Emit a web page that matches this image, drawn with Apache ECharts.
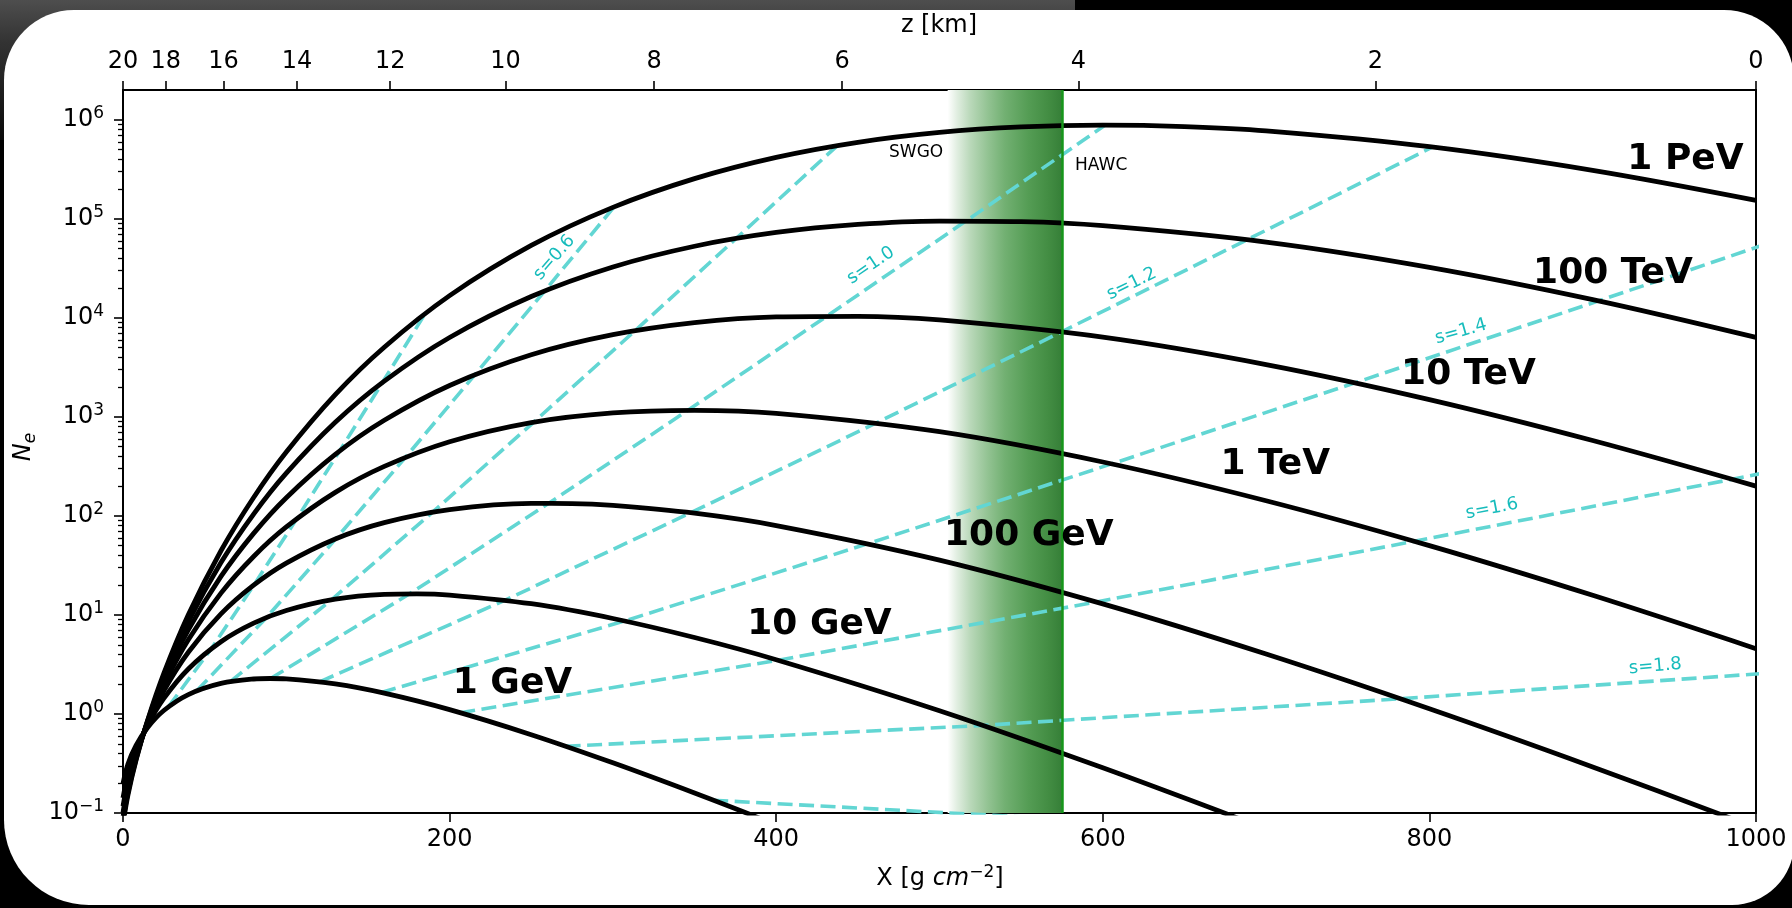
<!DOCTYPE html>
<html>
<head>
<meta charset="utf-8">
<script src="https://cdn.jsdelivr.net/npm/echarts@6/dist/echarts.min.js"></script>
<style>
html,body{margin:0;padding:0;background:#000;}
#chart{width:1792px;height:908px;}
</style>
</head>
<body>
<div id="chart"></div>
<script>
// ---------------- data ----------------
// Shower size N_e versus depth X [g cm^-2], one curve per primary energy
const energyNames = ['1 GeV', '10 GeV', '100 GeV', '1 TeV', '10 TeV', '100 TeV', '1 PeV'];

const x1GeV = [0, 3, 8, 15, 25, 40, 60, 80, 90, 100, 130, 160, 200, 250, 300, 350, 400, 500];
const n1GeV = [0.198, 0.311, 0.481, 0.727, 1.084, 1.571, 2.036, 2.255, 2.281, 2.261, 2.010, 1.621, 1.105, 0.617, 0.321, 0.159, 0.076, 0.0162];

const x10GeV = [0, 3, 8, 15, 25, 40, 60, 80, 100, 130, 160, 180, 200, 250, 300, 350, 400, 500, 600, 700];
const n10GeV = [0.142, 0.241, 0.425, 0.764, 1.434, 2.850, 5.369, 8.263, 11.09, 14.44, 16.14, 16.34, 15.89, 12.98, 9.211, 5.918, 3.534, 1.079, 0.286, 0.0691];

const x100GeV = [0, 3, 8, 15, 25, 40, 60, 80, 100, 130, 160, 200, 250, 275, 300, 350, 400, 500, 600, 700, 800, 900, 1000];
const n100GeV = [0.117, 0.208, 0.395, 0.791, 1.718, 4.204, 10.24, 19.97, 33.37, 58.56, 85.64, 115.9, 133.7, 133.3, 127.7, 106.5, 79.89, 35.80, 12.93, 4.030, 1.129, 0.292, 0.0710];

const x1TeV = [0, 3, 8, 15, 25, 40, 60, 80, 100, 130, 160, 200, 250, 300, 350, 400, 500, 600, 700, 800, 900, 1000];
const n1TeV = [0.101, 0.187, 0.376, 0.812, 1.964, 5.609, 16.61, 38.94, 77.39, 173.0, 316.2, 561.6, 877.1, 1098, 1165, 1086, 709.0, 350.5, 142.4, 50.09, 15.78, 4.564];

const x10TeV = [0, 3, 8, 15, 25, 40, 60, 80, 100, 130, 160, 200, 250, 300, 350, 400, 450, 500, 600, 700, 800, 900, 1000];
const n10TeV = [0.0908, 0.172, 0.361, 0.829, 2.184, 7.054, 24.47, 66.60, 152.8, 418.2, 924.1, 2075, 4236, 6758, 8944, 10212, 10354, 9520, 6384, 3376, 1495, 577.1, 199.8];

const x100TeV = [0, 3, 8, 15, 25, 40, 60, 80, 100, 130, 160, 200, 250, 300, 350, 400, 450, 500, 550, 600, 700, 800, 900, 1000];
const n100TeV = [0.0830, 0.160, 0.350, 0.844, 2.384, 8.532, 33.76, 104.3, 270.2, 880.9, 2295, 6332, 16410, 32640, 52860, 72790, 87820, 94950, 93590, 85260, 58290, 32390, 15290, 6347];

const x1PeV = [0, 3, 8, 15, 25, 40, 60, 80, 100, 130, 160, 200, 250, 300, 350, 400, 450, 500, 550, 600, 650, 700, 800, 900, 1000];
const n1PeV = [0.0769, 0.151, 0.341, 0.857, 2.570, 10.04, 44.50, 153.5, 441.8, 1679, 5056, 16770, 53850, 130600, 254800, 417400, 592500, 745700, 848300, 884100, 854700, 773800, 536400, 309300, 153900];

// Lines of constant shower age s (points at 1 GeV ... 1 PeV)
const ageNames = ['0.4', '0.6', '0.8', '1.0', '1.2', '1.4', '1.6', '1.8', '2.0'];
const xAge04 = [27.80, 54.01, 80.23, 106.45, 132.65, 158.87, 185.08];
const nAge04 = [1.181, 4.556, 20.11, 93.91, 452.1, 2222, 11060];
const xAge06 = [45.18, 87.76, 130.37, 172.98, 215.56, 258.17, 300.75];
const nAge06 = [1.714, 9.393, 58.90, 390.8, 2674, 18650, 132100];
const xAge08 = [65.71, 127.66, 189.63, 251.60, 313.54, 375.52, 437.46];
const nAge08 = [2.123, 14.23, 109.2, 886.5, 7414, 63380, 549300];
const xAge10 = [90.35, 175.53, 260.74, 345.95, 431.12, 516.34, 601.51];
const nAge10 = [2.281, 16.35, 134.2, 1166, 10430, 95400, 884100];
const xAge12 = [120.47, 234.04, 347.65, 461.26, 574.83, 688.44, 802.01];
const nAge12 = [2.113, 14.10, 107.6, 870.0, 7242, 61620, 531600];
const xAge14 = [158.12, 307.17, 456.29, 605.41, 754.47, 903.59, 1052.64];
const nAge14 = [1.647, 8.692, 52.49, 335.3, 2210, 14850, 101200];
const xAge16 = [206.52, 401.21, 595.97, 790.74, 985.42, 1180.19];
const nAge16 = [1.029, 3.488, 13.52, 55.46, 234.6, 1013];
const xAge18 = [271.06, 526.58, 782.22, 1037.85];
const nAge18 = [0.4720, 0.7667, 1.4246, 2.801];
const xAge20 = [361.42, 702.11];
const nAge20 = [0.1346, 0.0670];

// Detector depth band (SWGO -> HAWC), X in g cm^-2
const bandX = [505, 575];

// Axis ticks
const xTicks = [0, 200, 400, 600, 800, 1000];
const zTickX = [0, 26.2, 61.6, 106.6, 163.6, 234.3, 325.3, 440.3, 585.0, 766.9, 1000];
const zTickLabels = ['20', '18', '16', '14', '12', '10', '8', '6', '4', '2', '0'];
const yDecades = [0.1, 1, 10, 100, 1000, 1e4, 1e5, 1e6];
const yMin = 0.1, yMax = 2e6;

// Annotation anchors (data coordinates)
const energyLabelX = [238.5, 426.5, 554.7, 705.6, 823.9, 912.4, 956.8];
const energyLabelN = [2.004, 7.96, 63.24, 328.1, 2673, 28100, 399900];
const ageLabelText = ['s=0.6', 's=1.0', 's=1.2', 's=1.4', 's=1.6', 's=1.8'];
const ageLabelX = [264.1, 458.0, 617.7, 819.3, 838.3, 938.4];
const ageLabelN = [40640, 33800, 22080, 7244, 118, 3.02];
const ageLabelAngle = [49, 34, 26, 16, 11, 5];
const siteNames = ['SWGO', 'HAWC'];
const siteLabelX = [485.7, 599];
const siteLabelN = [462400, 345900];

// ---------------- chart ----------------
const FONT = 'DejaVu Sans';
const pairs = (xs, ns) => xs.map((x, i) => [x, ns[i]]);

const minorTicks = [];
for (let k = -1; k <= 6; k++) {
  for (let m = 2; m <= 9; m++) {
    const v = m * Math.pow(10, k);
    if (v < yMax) minorTicks.push(v);
  }
}

const curveXs = [x1GeV, x10GeV, x100GeV, x1TeV, x10TeV, x100TeV, x1PeV];
const curveNs = [n1GeV, n10GeV, n100GeV, n1TeV, n10TeV, n100TeV, n1PeV];
const ageXs = [xAge04, xAge06, xAge08, xAge10, xAge12, xAge14, xAge16, xAge18, xAge20];
const ageNs = [nAge04, nAge06, nAge08, nAge10, nAge12, nAge14, nAge16, nAge18, nAge20];

const series = [];

// band (gradient) + right edge line
series.push({
  type: 'line', name: 'band', z: 1, silent: true,
  xAxisIndex: 0, yAxisIndex: 0,
  data: [[bandX[0], yMin], [bandX[1], yMin]],
  showSymbol: false, symbol: 'none',
  lineStyle: { width: 0, opacity: 0 },
  markArea: {
    silent: true,
    itemStyle: {
      color: {
        type: 'linear', x: 0, y: 0, x2: 1, y2: 0,
        colorStops: [
          { offset: 0, color: '#ffffff' },
          { offset: 0.08, color: '#e1eee1' },
          { offset: 0.2, color: '#b9d8b9' },
          { offset: 0.35, color: '#93c393' },
          { offset: 0.5, color: '#72b072' },
          { offset: 0.7, color: '#559d55' },
          { offset: 0.88, color: '#438d43' },
          { offset: 1, color: '#367f38' }
        ]
      }
    },
    data: [[{ xAxis: bandX[0] }, { xAxis: bandX[1] }]]
  },
  markLine: {
    silent: true, symbol: 'none', label: { show: false },
    lineStyle: { color: '#16961a', width: 2.5, type: 'solid' },
    data: [{ xAxis: bandX[1] }]
  }
});

// age lines
ageXs.forEach((xs, i) => {
  series.push({
    type: 'line', name: 's=' + ageNames[i], z: 3, silent: true,
    data: pairs(xs, ageNs[i]),
    showSymbol: false, symbol: 'none', clip: true,
    lineStyle: { color: '#62d6d3', width: 3.6, type: [15, 6.5] }
  });
});

// energy curves
curveXs.forEach((xs, i) => {
  series.push({
    type: 'line', name: energyNames[i], z: 4, silent: true,
    data: pairs(xs, curveNs[i]),
    showSymbol: false, symbol: 'none', smooth: 0.35, clip: true,
    lineStyle: { color: '#000', width: 4.8 }
  });
});

const labelHolder = {
  type: 'scatter', z: 6, silent: true, symbolSize: 0.001,
  itemStyle: { color: 'transparent', opacity: 1 },
  emphasis: { disabled: true }
};

// energy labels
series.push(Object.assign({}, labelHolder, {
  data: energyLabelX.map((x, i) => ({ value: [x, energyLabelN[i]], name: energyNames[i] })),
  label: { show: true, position: 'inside', formatter: '{b}', fontSize: 36, fontWeight: 'bold', fontFamily: FONT, color: '#000', opacity: 1, textBorderWidth: 0 }
}));

// age labels
series.push(Object.assign({}, labelHolder, {
  data: ageLabelX.map((x, i) => ({ value: [x, ageLabelN[i]], name: ageLabelText[i], label: { rotate: ageLabelAngle[i] } })),
  label: { show: true, position: 'inside', formatter: '{b}', fontSize: 18, fontFamily: FONT, color: '#17bcbc', opacity: 1, textBorderWidth: 0 }
}));

// site labels
series.push(Object.assign({}, labelHolder, {
  data: siteLabelX.map((x, i) => ({ value: [x, siteLabelN[i]], name: siteNames[i] })),
  label: { show: true, position: 'inside', formatter: '{b}', fontSize: 17, fontFamily: FONT, color: '#000', opacity: 1, textBorderWidth: 0 }
}));

function expLabel(v) {
  const e = Math.round(Math.log10(v));
  return '{b|10}{e|' + (e < 0 ? '\u2212' + (-e) : String(e)) + '}';
}
function zLabel(v) {
  let best = 0, bd = Infinity;
  zTickX.forEach((x, i) => { const d = Math.abs(x - v); if (d < bd) { bd = d; best = i; } });
  return zTickLabels[best];
}

const option = {
  animation: false,
  backgroundColor: '#000',
  textStyle: { fontFamily: FONT },
  grid: {
    left: 123, right: 36, top: 90, bottom: 95,
    show: true, borderColor: '#000', borderWidth: 2, backgroundColor: 'transparent',
    containLabel: false, outerBoundsMode: 'none'
  },
  xAxis: [
    {
      type: 'value', position: 'bottom', min: 0, max: 1000, interval: 200,
      axisLine: { show: true, onZero: false, lineStyle: { color: '#000', width: 2 } },
      axisTick: { show: true, inside: false, length: 9, customValues: xTicks, lineStyle: { color: '#000', width: 1.6 } },
      axisLabel: { show: true, customValues: xTicks, formatter: (v) => String(Math.round(v)), fontSize: 24, fontFamily: FONT, color: '#000', margin: 15 },
      splitLine: { show: false }
    },
    {
      type: 'value', position: 'top', min: 0, max: 1000,
      axisLine: { show: true, onZero: false, lineStyle: { color: '#000', width: 2 } },
      axisTick: { show: true, inside: false, length: 9, customValues: zTickX, lineStyle: { color: '#000', width: 1.6 } },
      axisLabel: { show: true, customValues: zTickX, formatter: zLabel, fontSize: 24, fontFamily: FONT, color: '#000', margin: 16 },
      splitLine: { show: false }
    }
  ],
  yAxis: [
    {
      type: 'log', logBase: 10, min: yMin, max: yMax, position: 'left',
      axisLine: { show: true, onZero: false, lineStyle: { color: '#000', width: 2 } },
      axisTick: { show: true, inside: false, length: 9, customValues: yDecades, lineStyle: { color: '#000', width: 1.6 } },
      axisLabel: {
        show: true, customValues: yDecades, formatter: expLabel, margin: 19,
        rich: {
          b: { fontSize: 24, fontFamily: FONT, color: '#000', lineHeight: 30 },
          e: { fontSize: 17, fontFamily: FONT, color: '#000', lineHeight: 17, verticalAlign: 'top' }
        }
      },
      splitLine: { show: false }, minorTick: { show: false }
    },
    {
      type: 'log', logBase: 10, min: yMin, max: yMax, position: 'left', offset: 0,
      axisLine: { show: false },
      axisTick: { show: true, inside: false, length: 5, customValues: minorTicks, lineStyle: { color: '#000', width: 1.3 } },
      axisLabel: { show: false },
      splitLine: { show: false }
    }
  ],
  graphic: {
    elements: [
      {
        type: 'rect', z: -100, silent: true,
        shape: { x: 0, y: 0, width: 1075, height: 140 },
        style: { fill: { type: 'linear', x: 0, y: 0, x2: 0, y2: 1, colorStops: [{ offset: 0, color: '#4e4e4e' }, { offset: 0.3, color: '#333' }, { offset: 1, color: '#0a0a0a' }] } }
      },
      {
        type: 'rect', z: -99, silent: true,
        shape: { x: 4, y: 10, width: 1790, height: 895, r: [70, 70, 62, 85] },
        style: { fill: '#ffffff' }
      },
      {
        type: 'text', z: 100, silent: true, x: 939, y: 26,
        style: { text: 'z [km]', fontSize: 24, fontFamily: FONT, fill: '#000', align: 'center', verticalAlign: 'middle' }
      },
      {
        type: 'text', z: 100, silent: true, x: 940, y: 879,
        style: {
          text: '{r|X [g }{i|cm}{p|\u22122}{r|]}', align: 'center', verticalAlign: 'middle',
          rich: {
            r: { fontSize: 24, fontFamily: FONT, fill: '#000', lineHeight: 30 },
            i: { fontSize: 24, fontFamily: FONT, fontStyle: 'italic', fill: '#000', lineHeight: 30 },
            p: { fontSize: 17, fontFamily: FONT, fill: '#000', lineHeight: 17, verticalAlign: 'top' }
          }
        }
      },
      {
        type: 'text', z: 100, silent: true, x: 24, y: 447, rotation: Math.PI / 2,
        style: {
          text: '{n|N}{s|e}', align: 'center', verticalAlign: 'middle',
          rich: {
            n: { fontSize: 24, fontFamily: FONT, fontStyle: 'italic', fill: '#000', lineHeight: 30 },
            s: { fontSize: 17, fontFamily: FONT, fontStyle: 'italic', fill: '#000', lineHeight: 17, verticalAlign: 'bottom' }
          }
        }
      }
    ]
  },
  series: series
};

const chart = echarts.init(document.getElementById('chart'), null, { renderer: 'canvas' });
chart.setOption(option);
</script>
</body>
</html>
